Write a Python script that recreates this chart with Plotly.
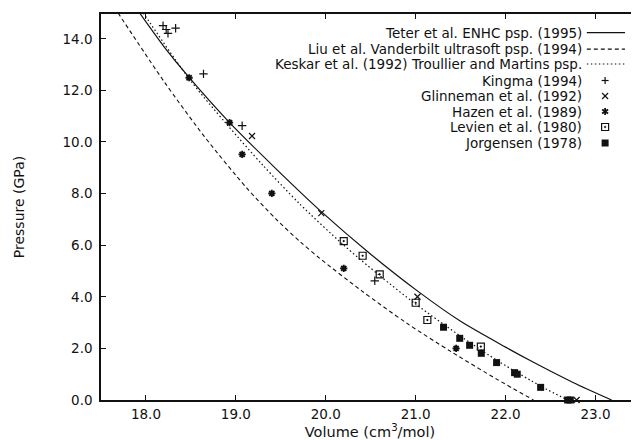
import plotly.graph_objects as go

# ---------------- data ----------------
teter_v = [17.93, 18.20, 18.48, 18.93, 19.45, 19.95, 20.50, 21.03, 21.50, 22.00, 22.30, 22.75, 23.18]
teter_p = [15.0, 13.70, 12.50, 10.75, 8.95, 7.30, 5.65, 4.20, 3.05, 2.05, 1.48, 0.68, 0.0]

liu_v = [17.69, 18.20, 18.65, 19.12, 19.45, 19.71, 19.93, 20.40, 20.90, 21.40, 21.90, 22.31]
liu_p = [15.0, 12.35, 10.21, 8.22, 7.00, 6.15, 5.50, 4.23, 2.98, 1.86, 0.81, 0.0]

keskar_v = [17.97, 18.48, 18.89, 19.30, 19.71, 20.20, 20.60, 21.00, 21.50, 21.94, 22.40, 22.69]
keskar_p = [15.0, 12.45, 10.72, 9.10, 7.60, 6.00, 4.82, 3.72, 2.47, 1.46, 0.52, 0.0]

kingma_v = [18.19, 18.225, 18.245, 18.33, 18.64, 19.07, 20.545]
kingma_p = [14.51, 14.36, 14.21, 14.41, 12.64, 10.63, 4.62]

glinneman_v = [19.18, 19.95, 21.02, 22.79]
glinneman_p = [10.23, 7.24, 4.00, 0.0]

hazen_v = [18.48, 18.93, 19.07, 19.40, 20.20, 21.45]
hazen_p = [12.49, 10.75, 9.52, 8.01, 5.10, 2.00]

levien_v = [20.20, 20.41, 20.60, 21.00, 21.13, 21.725]
levien_p = [6.16, 5.59, 4.87, 3.77, 3.10, 2.07]

jorgensen_v = [21.31, 21.49, 21.60, 21.73, 21.90, 22.10, 22.13, 22.39, 22.69, 22.72]
jorgensen_p = [2.82, 2.39, 2.12, 1.81, 1.45, 1.06, 1.00, 0.49, 0.0, 0.0]

x_ticks = [18.0, 19.0, 20.0, 21.0, 22.0, 23.0]
x_tick_labels = ["18.0", "19.0", "20.0", "21.0", "22.0", "23.0"]
y_ticks = [0, 2, 4, 6, 8, 10, 12, 14]
y_tick_labels = ["0.0", "2.0", "4.0", "6.0", "8.0", "10.0", "12.0", "14.0"]

x_title = "Volume (cm<sup>3</sup>/mol)"
y_title = "Pressure (GPa)"

legend_names = [
    "Teter et al. ENHC psp. (1995)",
    "Liu et al. Vanderbilt ultrasoft psp. (1994)",
    "Keskar et al. (1992) Troullier and Martins psp.",
    "Kingma (1994)",
    "Glinneman et al. (1992)",
    "Hazen et al. (1989)",
    "Levien et al. (1980)",
    "Jorgensen (1978)",
]

# ---------------- styles ----------------
FONT = "DejaVu Sans, Liberation Sans, Arial, sans-serif"
INK = "#111111"
line_styles = [
    dict(color=INK, width=1.2, dash="solid"),
    dict(color=INK, width=1.1, dash="4px,3px"),
    dict(color=INK, width=1.2, dash="1.5px,2.5px"),
]
marker_styles = [
    dict(symbol="cross-thin-open", size=6, line=dict(color=INK, width=1.2), color=INK),
    dict(symbol="x-thin-open", size=6, line=dict(color=INK, width=1.2), color=INK),
    dict(symbol="asterisk-open", size=6, line=dict(color=INK, width=1.8), color=INK),
    dict(symbol="square-open-dot", size=7, line=dict(color=INK, width=1.2), color=INK),
    dict(symbol="square", size=7, line=dict(color=INK, width=0), color=INK),
]

fig = go.Figure()

curves = [(teter_v, teter_p), (liu_v, liu_p), (keskar_v, keskar_p)]
for (v, p), ls, name in zip(curves, line_styles, legend_names[:3]):
    fig.add_trace(go.Scatter(x=v, y=p, mode="lines", name=name,
                             line=dict(shape="spline", smoothing=0.8, **ls),
                             showlegend=False, hoverinfo="skip"))

points = [(kingma_v, kingma_p), (glinneman_v, glinneman_p), (hazen_v, hazen_p),
          (levien_v, levien_p), (jorgensen_v, jorgensen_p)]
for (v, p), ms, name in zip(points, marker_styles, legend_names[3:]):
    fig.add_trace(go.Scatter(x=v, y=p, mode="markers", name=name, marker=ms,
                             cliponaxis=False, showlegend=False))

# invisible trace to activate mirrored right-hand y axis (ticks only)
fig.add_trace(go.Scatter(x=[None], y=[None], xaxis="x", yaxis="y2",
                         showlegend=False, hoverinfo="skip"))

# ---------------- custom legend (text right-aligned, sample on the right) ----------------
PX = 1 / 538.0   # one pixel in paper-x units
PY = 1 / 386.0   # one pixel in paper-y units
leg_text_x = 0.896
leg_line_x = [0.903, 0.974]
mx = 0.937
leg_y = [0.952, 0.909, 0.8705, 0.8277, 0.7876, 0.7474, 0.7073, 0.6658]

for i, name in enumerate(legend_names):
    fig.add_annotation(x=leg_text_x, y=leg_y[i], xref="paper", yref="paper",
                       text=name, showarrow=False, xanchor="right", yanchor="middle",
                       borderpad=0,
                       font=dict(family=FONT, size=13.5, color=INK))


def seg(x0, y0, x1, y1, width=1.2, dash="solid"):
    fig.add_shape(type="line", xref="paper", yref="paper", x0=x0, y0=y0, x1=x1, y1=y1,
                  line=dict(color=INK, width=width, dash=dash))


for i in range(3):
    seg(leg_line_x[0], leg_y[i], leg_line_x[1], leg_y[i],
        width=line_styles[i]["width"], dash=line_styles[i]["dash"])

# Kingma "+"
yk = leg_y[3]
seg(mx - 3.5 * PX, yk, mx + 3.5 * PX, yk)
seg(mx, yk - 3.5 * PY, mx, yk + 3.5 * PY)
# Glinneman "x"
yg = leg_y[4]
seg(mx - 3 * PX, yg - 3 * PY, mx + 3 * PX, yg + 3 * PY)
seg(mx - 3 * PX, yg + 3 * PY, mx + 3 * PX, yg - 3 * PY)
# Hazen asterisk
yh = leg_y[5]
seg(mx, yh - 3.5 * PY, mx, yh + 3.5 * PY, width=1.8)
seg(mx - 3 * PX, yh - 2 * PY, mx + 3 * PX, yh + 2 * PY, width=1.8)
seg(mx - 3 * PX, yh + 2 * PY, mx + 3 * PX, yh - 2 * PY, width=1.8)
# Levien open square with dot
yl = leg_y[6]
fig.add_shape(type="rect", xref="paper", yref="paper",
              x0=mx - 3.5 * PX, x1=mx + 3.5 * PX, y0=yl - 3.5 * PY, y1=yl + 3.5 * PY,
              line=dict(color=INK, width=1.2), fillcolor="rgba(0,0,0,0)")
fig.add_shape(type="rect", xref="paper", yref="paper",
              x0=mx - 0.7 * PX, x1=mx + 0.7 * PX, y0=yl - 0.7 * PY, y1=yl + 0.7 * PY,
              line=dict(color=INK, width=0.5), fillcolor=INK)
# Jorgensen filled square
yj = leg_y[7]
fig.add_shape(type="rect", xref="paper", yref="paper",
              x0=mx - 3.5 * PX, x1=mx + 3.5 * PX, y0=yj - 3.5 * PY, y1=yj + 3.5 * PY,
              line=dict(color=INK, width=0), fillcolor=INK)

X_RANGE = [17.5, 23.484]
Y_RANGE = [0, 14.96]

# the page body has an 8px default margin; the figure is sized to fit the window
fig.update_layout(
    width=631, height=432,
    margin=dict(l=93, r=0, t=6, b=40),
    paper_bgcolor="white", plot_bgcolor="white",
    font=dict(family=FONT, size=13.5, color=INK),
    showlegend=False,
    xaxis=dict(range=X_RANGE, tickvals=x_ticks, ticktext=x_tick_labels,
               ticks="inside", ticklen=5, tickwidth=1.2, tickcolor=INK,
               showline=True, linecolor=INK, linewidth=1.5, mirror="ticks",
               showgrid=False, zeroline=False, ticklabelstandoff=1,
               automargin=False,
               title=dict(text=x_title, standoff=0,
                          font=dict(family=FONT, size=14.5, color=INK)),
               tickfont=dict(family=FONT, size=13.5, color=INK)),
    yaxis=dict(range=Y_RANGE, tickvals=y_ticks, ticktext=y_tick_labels,
               ticks="inside", ticklen=5, tickwidth=1.2, tickcolor=INK,
               showline=True, linecolor=INK, linewidth=1.5, mirror=False,
               showgrid=False, zeroline=False, ticklabelstandoff=4,
               automargin=False,
               title=dict(text=y_title, standoff=35,
                          font=dict(family=FONT, size=14, color=INK)),
               tickfont=dict(family=FONT, size=13.5, color=INK)),
    yaxis2=dict(range=Y_RANGE, overlaying="y", side="right", tickvals=y_ticks,
                ticks="inside", ticklen=5, tickwidth=1.2, tickcolor=INK,
                showticklabels=False, showline=False, showgrid=False, zeroline=False),
)

fig.write_html("out.html")
